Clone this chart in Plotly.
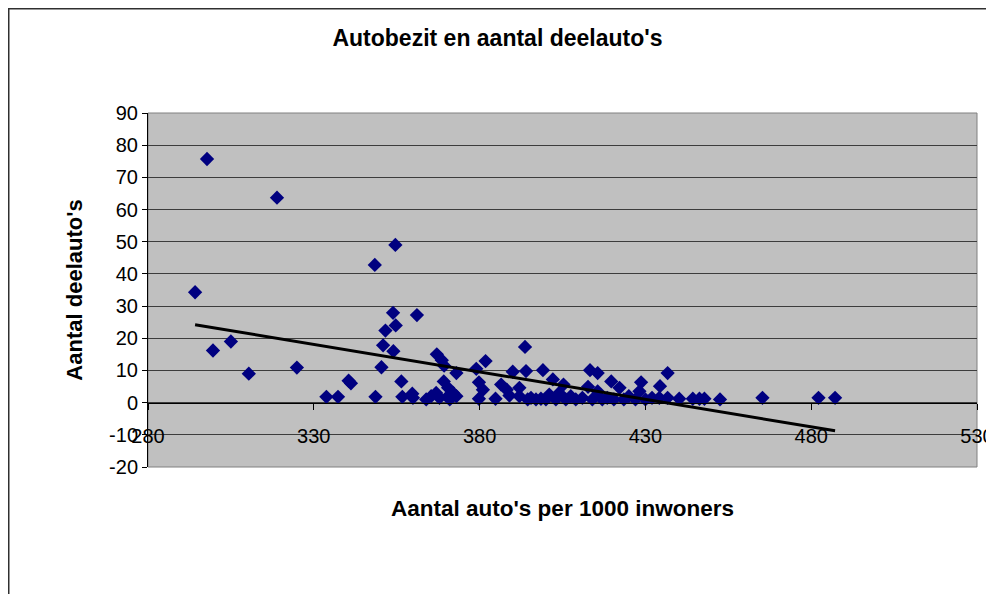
import numpy as np
import plotly.graph_objects as go

# Aantal auto's per 1000 inwoners (x) en aantal deelauto's (y)
autos_per_1000 = [
    294.2, 297.8, 299.6, 305.0, 310.4, 318.9, 324.9, 333.8, 337.3, 340.5,
    341.2, 348.4, 348.6, 350.4, 350.9, 351.6, 353.9, 354.7, 354.0, 354.6,
    356.4, 356.7, 359.7, 359.9, 361.1, 363.9, 365.4, 366.9, 367.1, 367.9,
    368.6, 369.3, 369.2, 370.5, 370.5, 371.0, 372.0, 373.0, 373.0, 379.0,
    379.8, 379.8, 381.0, 381.8, 384.8, 386.5, 388.2, 389.0, 390.0, 392.0,
    392.0, 393.7, 394.0, 394.5, 395.5, 397.0, 398.5, 399.1, 400.0, 401.0,
    402.1, 403.0, 404.0, 405.3, 406.0, 407.5, 409.0, 411.0, 412.7, 413.3,
    414.0, 415.6, 415.6, 417.0, 418.5, 419.7, 420.5, 422.2, 423.5, 425.0,
    427.0, 428.2, 428.7, 430.0, 432.0, 434.4, 434.2, 436.7, 436.7, 440.2,
    444.3, 446.3, 447.8, 452.5, 465.3, 482.2, 487.2,
]
deelautos = [
    34.3, 75.7, 16.2, 19.0, 9.0, 63.7, 10.9, 1.8, 1.8, 6.8,
    6.0, 42.8, 1.8, 11.0, 17.8, 22.4, 27.9, 24.0, 16.0, 49.0,
    6.6, 1.8, 2.8, 1.5, 27.2, 1.0, 2.0, 3.0, 15.0, 1.5,
    13.2, 11.5, 6.6, 4.6, 2.0, 1.0, 3.0, 2.0, 9.2, 10.5,
    6.3, 1.2, 4.0, 12.9, 1.2, 5.6, 4.0, 2.2, 9.6, 4.6,
    2.0, 17.3, 9.8, 1.0, 1.5, 1.0, 1.2, 10.1, 1.0, 2.5,
    7.2, 1.0, 3.0, 5.6, 1.0, 2.0, 1.0, 1.5, 4.9, 10.1,
    1.0, 9.2, 3.5, 1.0, 1.5, 6.6, 1.0, 4.6, 1.0, 2.0,
    1.0, 3.5, 6.3, 1.0, 1.5, 5.1, 1.5, 9.2, 1.5, 1.2,
    1.2, 1.2, 1.2, 1.0, 1.5, 1.5, 1.5,
]

x_ticks = [280, 330, 380, 430, 480, 530]
y_ticks = [-20, -10, 0, 10, 20, 30, 40, 50, 60, 70, 80, 90]

title_text = "Autobezit en aantal deelauto's"
x_title = "Aantal auto's per 1000 inwoners"
y_title = "Aantal deelauto's"

FONT = "Liberation Sans, Arial, sans-serif"

xa = np.array(autos_per_1000)
ya = np.array(deelautos)
slope, intercept = np.polyfit(xa, ya, 1)
trend_x = np.array([xa.min(), xa.max()])
trend_y = slope * trend_x + intercept

fig = go.Figure()
fig.add_trace(go.Scatter(
    x=autos_per_1000, y=deelautos, mode="markers",
    marker=dict(symbol="diamond", size=11, color="#000080", line=dict(width=0)),
    showlegend=False, cliponaxis=False,
))
fig.add_trace(go.Scatter(
    x=trend_x, y=trend_y, mode="lines",
    line=dict(color="black", width=3),
    showlegend=False,
))

W, H = 986, 586
L, T = 140, 105
R = W - 969
B = H - 459
pw, ph = W - L - R, H - T - B

fig.update_layout(
    width=W, height=H,
    margin=dict(l=L, r=R, t=T, b=B, pad=0, autoexpand=False),
    paper_bgcolor="white",
    plot_bgcolor="#C0C0C0",
    font=dict(family=FONT, size=20, color="black"),
    title=dict(text="<b>" + title_text + "</b>", x=489.5 / W, xref="container",
               y=1 - 30 / H, yref="container", yanchor="middle", xanchor="center",
               font=dict(family=FONT, size=23, color="black")),
    xaxis=dict(
        range=[280, 530], tickvals=x_ticks, ticktext=[str(v) for v in x_ticks],
        showgrid=False, zeroline=False, automargin=False,
        anchor="free", position=20 / 110,
        showline=True, linecolor="black", linewidth=1,
        ticks="outside", ticklen=6, tickcolor="black",
        ticklabelstandoff=9, ticklabeloverflow="allow",
        tickfont=dict(family=FONT, size=20, color="black"),
    ),
    yaxis=dict(
        range=[-20, 90], tickvals=y_ticks, ticktext=[str(v) for v in y_ticks],
        showgrid=True, gridcolor="#3c3c3c", gridwidth=1,
        zeroline=False, automargin=False,
        showline=True, linecolor="black", linewidth=1,
        ticks="outside", ticklen=5, tickcolor="black",
        tickfont=dict(family=FONT, size=20, color="black"),
        title=dict(text="<b>" + y_title + "</b>", standoff=20,
                   font=dict(family=FONT, size=22, color="black")),
    ),
    annotations=[dict(
        text="<b>" + x_title + "</b>", xref="paper", yref="paper",
        x=0.5, y=-(500 - (T + ph)) / ph, xanchor="center", yanchor="middle",
        showarrow=False, font=dict(family=FONT, size=22.5, color="black"),
    )],
    shapes=[
        dict(type="rect", xref="paper", yref="paper", x0=0, x1=1, y0=0, y1=1,
             line=dict(color="#808080", width=1), layer="below"),
        dict(type="rect", xref="paper", yref="paper",
             x0=(0.75 - L) / pw, x1=(W + 20 - L) / pw,
             y0=-(H + 20 - T - ph) / ph, y1=(T + ph - 0.75) / ph,
             line=dict(color="#303030", width=1.5)),
    ],
)

fig.write_html("out.html")
